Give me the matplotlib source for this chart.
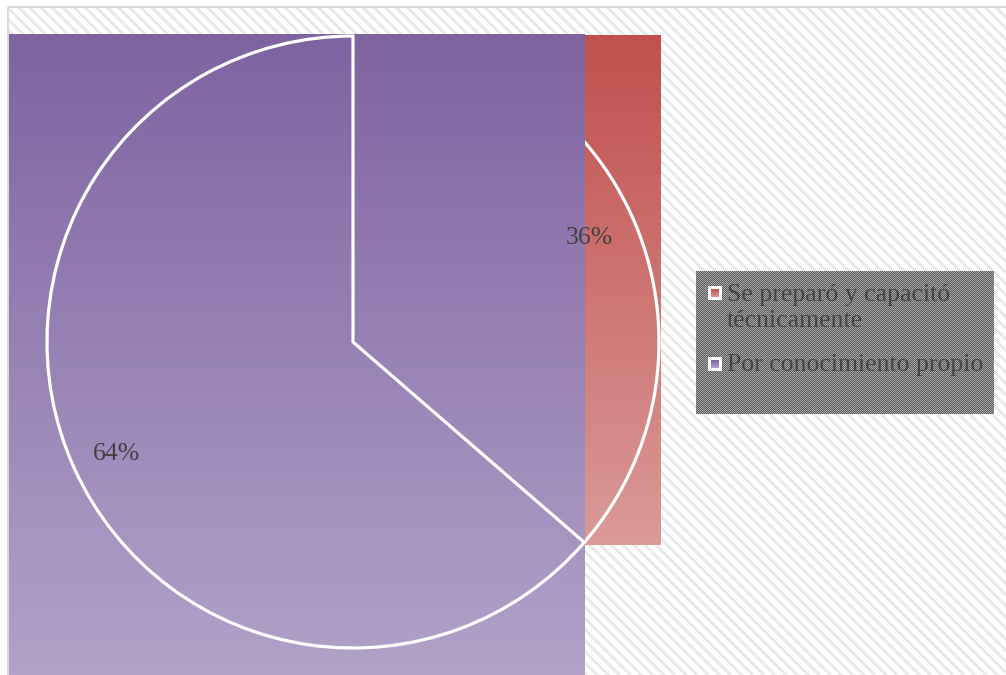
import numpy as np
import matplotlib.pyplot as plt
from matplotlib.colors import LinearSegmentedColormap, ListedColormap
from matplotlib.patches import Rectangle

# data
legend_labels = ['Se preparó y capacitó\ntécnicamente', 'Por conocimiento propio']
values = [8, 14]
top_colors = ['#C0504D', '#7F63A1']
bottom_colors = ['#DA9A98', '#B3A4CA']

plt.rcParams['font.family'] = ['Liberation Serif', 'DejaVu Serif']
plt.rcParams['hatch.linewidth'] = 2.0

W, H = 1006, 675
fig = plt.figure(figsize=(W / 100, H / 100), dpi=100)
ax = fig.add_axes([0, 0, 1, 1])


def gradient_box(x0, x1, y0, y1, c_top, c_bot, z):
    cmap = LinearSegmentedColormap.from_list('g', [c_top, c_bot])
    grad = np.linspace(0, 1, 256).reshape(-1, 1)
    ax.imshow(grad, cmap=cmap, extent=(x0, x1, y1, y0), aspect='auto',
              interpolation='bilinear', zorder=z)


# chart area: hatched background + thin border
ax.add_patch(Rectangle((9, 8), W, H, facecolor='white', edgecolor='#E8E8E8',
                       hatch='\\\\\\', linewidth=0, zorder=0))
ax.add_patch(Rectangle((8, 7), W, H, fill=False, edgecolor='#D9D9D9',
                       linewidth=1.5, zorder=0.5))

cx, cy, r = 353, 342, 306
wedges, texts, autotexts = ax.pie(values, startangle=-90, counterclock=True,
                                  center=(cx, cy), radius=r, frame=True,
                                  autopct='%.0f%%', pctdistance=0.85)

# the fills are drawn as gradient boxes over each slice's extent
red_box = wedges[0].get_path().get_extents()
purple_box = wedges[1].get_path().get_extents()
top = purple_box.y0 - 1
gradient_box(red_box.x0, red_box.x1 + 2, top + 0.5, red_box.y1 + 3,
             top_colors[0], bottom_colors[0], 1)
gradient_box(9, purple_box.x1, top - 0.5, H + 20,
             top_colors[1], bottom_colors[1], 3)

# each outline sits right above its own fill
for w, z in zip(wedges, [2, 4]):
    w.set_facecolor('none')
    w.set_edgecolor('white')
    w.set_linewidth(2.3)
    w.set_zorder(z)

for t in autotexts:
    t.set_color('#404040')
    t.set_fontsize(18.5)
    t.set_zorder(5)
    px, py = t.get_position()
    t.set_position((px, py + 4))

# legend box with fine checker texture
lx, ly, lw, lh = 696, 271, 298, 143
yy, xx = np.indices((lh, lw))
checker = (xx + yy) % 2
ax.imshow(checker, cmap=ListedColormap(['#5c5c5c', '#a6a6a6']),
          extent=(lx, lx + lw, ly + lh, ly), interpolation='nearest',
          aspect='auto', zorder=6)

marker_y = [293, 364]
text_y = [308, 365]
for i, lab in enumerate(legend_labels):
    ax.add_patch(Rectangle((708, marker_y[i] - 7), 14, 14, facecolor='white',
                           edgecolor='none', zorder=7))
    gradient_box(711, 719, marker_y[i] - 4, marker_y[i] + 4,
                 top_colors[i], bottom_colors[i], 8)
    ax.text(727, text_y[i], lab, fontsize=18.5, color='#454545', va='center',
            ha='left', linespacing=1.25, zorder=9)

ax.set_xlim(0, W)
ax.set_ylim(H, 0)
ax.set_aspect('auto')
ax.axis('off')

fig.savefig('out.png', dpi=100)
